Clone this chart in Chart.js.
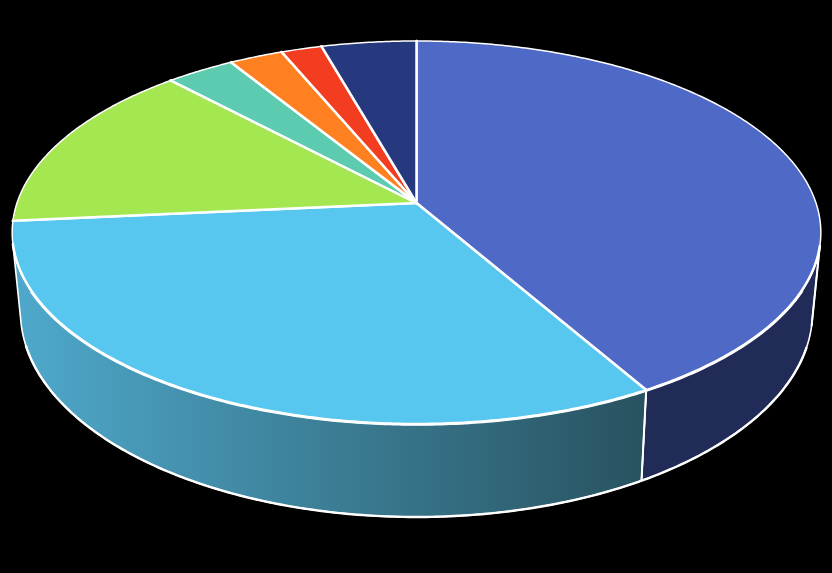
<!DOCTYPE html>
<html>
<head>
<meta charset="utf-8">
<style>html,body{margin:0;padding:0;background:#000}canvas{display:block}</style>
<script src="https://cdn.jsdelivr.net/npm/chart.js@4/dist/chart.umd.min.js"></script>
</head>
<body>
<canvas id="c" width="832" height="573"></canvas>
<script>
const categories = ['A','B','C','D','E','F','G'];
const values = [41.7, 31.8, 14.5, 3.2, 2.5, 1.9, 4.4];
const topColors = ['#4f69c6','#57c7ef','#a5e750','#5ccbb0','#ff8021','#f23d20','#27397e'];
const wallLeft  = ['#202b58','#4fa9cc','#6a9a34','#3a8270','#a55215','#9c2714','#192550'];
const wallRight = ['#202b58','#28525f','#6a9a34','#3a8270','#a55215','#9c2714','#192550'];

// Perspective projection of the unit circle onto the top face
const P = {ax:416.5, ay:203, k:399.5, a:155.7, c:-0.154, cy:232.5, rx:404.3, ry:191.5,
           bx:416.5, by:312, brx:396, bry:205, minU:0.06, rimU:0.3};
function project(t){
  const x=Math.cos(t), y=Math.sin(t), w=P.c*y+1;
  return {x:P.ax+P.k*x/w, y:(P.a*y+P.ay)/w};
}
function edge(a0,a1){
  const n=Math.max(2,Math.ceil(Math.abs(a1-a0)/0.01)), pts=[];
  for(let i=0;i<=n;i++) pts.push(project(a0+(a1-a0)*i/n));
  return pts;
}
function lower(p){
  const ux=(p.x-P.ax)/P.rx, uy=(p.y-P.cy)/P.ry;
  return {x:P.bx+P.brx*ux, y:P.by+P.bry*uy};
}
function isFront(p){ return (p.y-P.cy)/P.ry>=P.minU; }
function isRim(p){ return (p.y-P.cy)/P.ry>=P.rimU; }
function strokeLine(ctx,pts,w){
  if(pts.length<2) return;
  ctx.beginPath();
  pts.forEach((p,j)=>j?ctx.lineTo(p.x,p.y):ctx.moveTo(p.x,p.y));
  ctx.lineWidth=w;
  ctx.stroke();
}
class Arc3D extends Chart.ArcElement{
  draw(ctx){
    const o=this.options, pts=edge(this.startAngle,this.endAngle);
    const apex={x:P.ax,y:P.ay};
    ctx.save();
    ctx.beginPath();
    ctx.moveTo(apex.x,apex.y);
    pts.forEach(p=>ctx.lineTo(p.x,p.y));
    ctx.closePath();
    ctx.fillStyle=o.backgroundColor;
    ctx.fill();
    ctx.lineJoin='round';
    ctx.lineCap='round';
    ctx.strokeStyle=o.borderColor;
    strokeLine(ctx,pts,1.5);
    strokeLine(ctx,pts.filter(isFront),o.borderWidth);
    strokeLine(ctx,[apex,pts[0]],o.borderWidth);
    strokeLine(ctx,[apex,pts[pts.length-1]],o.borderWidth);
    ctx.restore();
  }
}
Arc3D.id='arc3d';
Arc3D.defaults=Chart.ArcElement.defaults;
Arc3D.defaultRoutes=Chart.ArcElement.defaultRoutes;
Chart.register(Arc3D);
Chart.defaults.datasets.pie.dataElementType='arc3d';

const walls={
  id:'walls',
  beforeDatasetsDraw(chart){
    const ctx=chart.ctx;
    chart.getDatasetMeta(0).data.forEach((arc,i)=>{
      const all=edge(arc.startAngle,arc.endAngle);
      const top=all.filter(isFront);
      if(top.length<2) return;
      const bot=top.map(lower).reverse();
      const xs=top.concat(bot).map(p=>p.x);
      const g=ctx.createLinearGradient(Math.min(...xs),0,Math.max(...xs),0);
      g.addColorStop(0,wallLeft[i]);
      g.addColorStop(1,wallRight[i]);
      ctx.save();
      ctx.beginPath();
      top.concat(bot).forEach((p,j)=>j?ctx.lineTo(p.x,p.y):ctx.moveTo(p.x,p.y));
      ctx.closePath();
      ctx.fillStyle=g;
      ctx.fill();
      ctx.lineJoin='round';
      ctx.lineWidth=1.6;
      ctx.strokeStyle='#ffffff';
      ctx.stroke();
      strokeLine(ctx,bot.filter(p=>p.y>345),2.4);
      strokeLine(ctx,[top[0],bot[bot.length-1]],2);
      strokeLine(ctx,all.filter(isRim),3.6);
      ctx.restore();
    });
  }
};

new Chart(document.getElementById('c'),{
  type:'pie',
  data:{labels:categories,datasets:[{data:values,backgroundColor:topColors,borderColor:'#ffffff',borderWidth:2.5}]},
  options:{
    responsive:false,animation:false,
    layout:{padding:0},
    plugins:{legend:{display:false},tooltip:{enabled:false}}
  },
  plugins:[walls]
});
</script>
</body>
</html>
